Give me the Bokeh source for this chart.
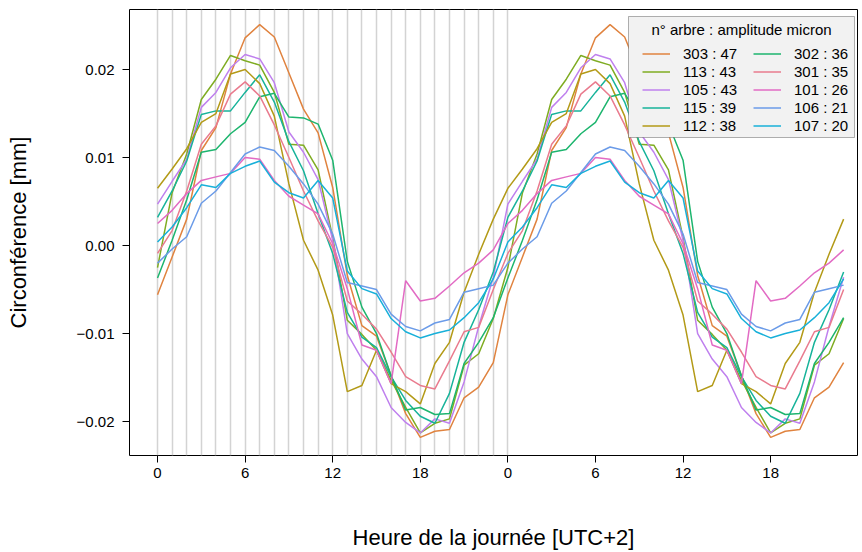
from bokeh.plotting import figure
from bokeh.models import (Range1d, FixedTicker, CustomJSTickFormatter, Legend,
                          LegendItem, BoxAnnotation, Label)
from bokeh.embed import file_html
from bokeh.resources import INLINE

# ---------------- data (microns, one value per hour, day repeated twice) ---------
hours = list(range(48))
grid_hours = list(range(25))
x_ticks = [0, 6, 12, 18, 24, 30, 36, 42]
y_ticks = [-0.02, -0.01, 0.0, 0.01, 0.02]

trees = ["303", "113", "105", "115", "112", "302", "301", "101", "106", "107"]
amplitudes = [47, 43, 43, 39, 38, 36, 35, 26, 21, 20]
colors = ["#E0833F", "#7FAC22", "#BF80EE", "#17B39A", "#B39A17",
          "#1DB56E", "#E97B8E", "#E26BC4", "#6B9BE8", "#18B0D9"]

s303 = [-5.6, -1.3, 3.0, 10.8, 13.4, 19.5, 23.6, 25.1, 23.7, 19.6, 15.5, 12.8,
        6.6, -3.4, -9.1, -10.3, -14.8, -19.1, -21.8, -21.1, -20.9, -17.3, -16.1, -13.3]
s113 = [-2.5, 6.0, 10.4, 16.6, 18.9, 21.6, 21.0, 20.5, 17.4, 11.5, 11.4, 8.6,
        0.9, -8.5, -10.1, -11.9, -15.3, -18.4, -21.3, -20.2, -19.7, -13.6, -12.3, -8.3]
s105 = [4.7, 7.3, 9.8, 15.7, 17.4, 20.2, 21.7, 21.2, 18.5, 12.9, 10.6, 7.5,
        0.6, -10.0, -12.9, -14.9, -18.4, -20.1, -21.3, -19.7, -20.2, -15.5, -9.2, -3.6]
s115 = [3.2, 6.2, 9.6, 14.9, 15.3, 15.3, 17.4, 19.4, 16.3, 11.8, 8.5, 3.6,
        -0.9, -7.6, -10.4, -11.6, -14.9, -17.6, -19.4, -20.2, -16.8, -11.0, -7.3, -3.0]
s112 = [6.5, 8.7, 11.0, 14.0, 15.0, 19.5, 20.0, 18.4, 14.7, 7.0, 0.6, -2.8,
        -7.9, -16.6, -15.9, -11.9, -15.7, -16.6, -18.0, -13.4, -11.0, -5.3, -1.0, 3.0]
s302 = [-3.7, 0.6, 5.2, 10.6, 10.9, 12.7, 14.0, 16.9, 17.3, 14.6, 14.5, 13.8,
        9.7, -1.8, -7.0, -10.0, -14.8, -18.7, -18.4, -19.2, -19.1, -13.4, -11.0, -8.2]
s301 = [-0.9, 1.7, 6.2, 11.5, 13.6, 17.2, 18.6, 17.0, 13.7, 10.0, 6.2, 2.8,
        -0.2, -6.3, -7.8, -9.5, -12.1, -14.9, -15.9, -16.3, -13.1, -9.8, -9.3, -5.0]
s101 = [2.5, 4.0, 5.9, 7.4, 7.8, 8.2, 10.0, 9.8, 7.4, 5.6, 4.6, 3.6,
        0.2, -4.9, -11.3, -11.9, -15.7, -4.0, -6.3, -6.0, -4.6, -3.1, -2.0, -0.5]
s106 = [-2.0, -0.4, 1.0, 4.8, 6.2, 8.3, 10.4, 11.2, 10.8, 9.0, 7.0, 4.7,
        1.3, -4.2, -4.6, -5.0, -7.8, -9.2, -9.7, -8.8, -8.4, -5.3, -4.9, -4.5]
s107 = [0.4, 2.1, 4.3, 6.9, 6.6, 8.2, 9.0, 9.6, 7.2, 6.0, 5.4, 7.4,
        5.4, -2.9, -4.9, -5.5, -8.3, -9.8, -10.5, -10.0, -9.6, -8.2, -6.5, -3.8]

series = [s303, s113, s105, s115, s112, s302, s301, s101, s106, s107]

FONT = "Liberation Sans"

# ---------------- figure ---------------------------------------------------------
p = figure(width=862, height=552, output_backend="svg", toolbar_location=None,
           x_range=Range1d(-1.92, 47.95), y_range=Range1d(-0.02386, 0.02682),
           min_border_left=129, min_border_right=5, min_border_top=9,
           min_border_bottom=97)
p.background_fill_color = "white"
p.border_fill_color = "white"
p.outline_line_color = "black"
p.outline_line_width = 1

p.xgrid.ticker = FixedTicker(ticks=grid_hours)
p.xgrid.grid_line_color = "#D3D3D3"
p.xgrid.grid_line_width = 1.5
p.ygrid.grid_line_color = None

renderers = []
for vals, col in zip(series, colors):
    ys = [v / 1000.0 for v in vals + vals]
    r = p.line(hours, ys, line_color=col, line_width=1.5)
    renderers.append(r)

# axes
p.xaxis.ticker = FixedTicker(ticks=x_ticks)
p.xaxis.formatter = CustomJSTickFormatter(code="return String(((tick % 24) + 24) % 24);")
p.yaxis.ticker = FixedTicker(ticks=y_ticks)
p.yaxis.formatter = CustomJSTickFormatter(code="""
const s = Math.abs(tick).toFixed(2);
return tick < -1e-9 ? "\\u2212" + s : s;
""")
for ax in (p.xaxis[0], p.yaxis[0]):
    ax.axis_line_color = None
    ax.major_tick_out = 7
    ax.major_tick_in = 0
    ax.minor_tick_line_color = None
    ax.major_tick_line_color = "black"
    ax.major_label_text_font = FONT
    ax.major_label_text_font_size = "15px"
    ax.major_label_text_color = "black"
    ax.axis_label_text_font = FONT
    ax.axis_label_text_font_size = "22px"
    ax.axis_label_text_font_style = "normal"
    ax.axis_label_text_color = "black"

p.xaxis.axis_label = "Heure de la journée [UTC+2]"
p.yaxis.axis_label = "Circonférence [mm]"
p.xaxis.major_label_standoff = 5
p.xaxis.axis_label_standoff = 44
p.yaxis.major_label_standoff = 8
p.yaxis.major_label_orientation = "horizontal"
p.yaxis.axis_label_standoff = 43

# ---------------- legend ---------------------------------------------------------
box = BoxAnnotation(left=499, right=725, top=439, bottom=318,
                    left_units="screen", right_units="screen",
                    top_units="screen", bottom_units="screen",
                    fill_color="#F2F2F2", fill_alpha=1.0,
                    line_color="black", line_width=1)
p.add_layout(box)

title = Label(x=612, y=426, x_units="screen", y_units="screen",
              text="n° arbre : amplitude micron", text_align="center",
              text_baseline="middle", text_font=FONT, text_font_size="15px",
              text_color="black")
p.add_layout(title)

labels = [f"{t} : {a}" for t, a in zip(trees, amplitudes)]
items = [LegendItem(label=lab, renderers=[r]) for lab, r in zip(labels, renderers)]


def make_legend(its, vx):
    lg = Legend(items=its, location=(vx, 321), orientation="vertical",
                border_line_color=None, background_fill_alpha=0.0,
                padding=0, spacing=1, margin=0,
                label_text_font=FONT, label_text_font_size="15px",
                label_text_color="black",
                glyph_width=28, glyph_height=17, label_height=17,
                label_standoff=13)
    return lg


p.add_layout(make_legend(items[:5], 513))
p.add_layout(make_legend(items[5:], 624))

open("out.html", "w").write(file_html(p, INLINE))
